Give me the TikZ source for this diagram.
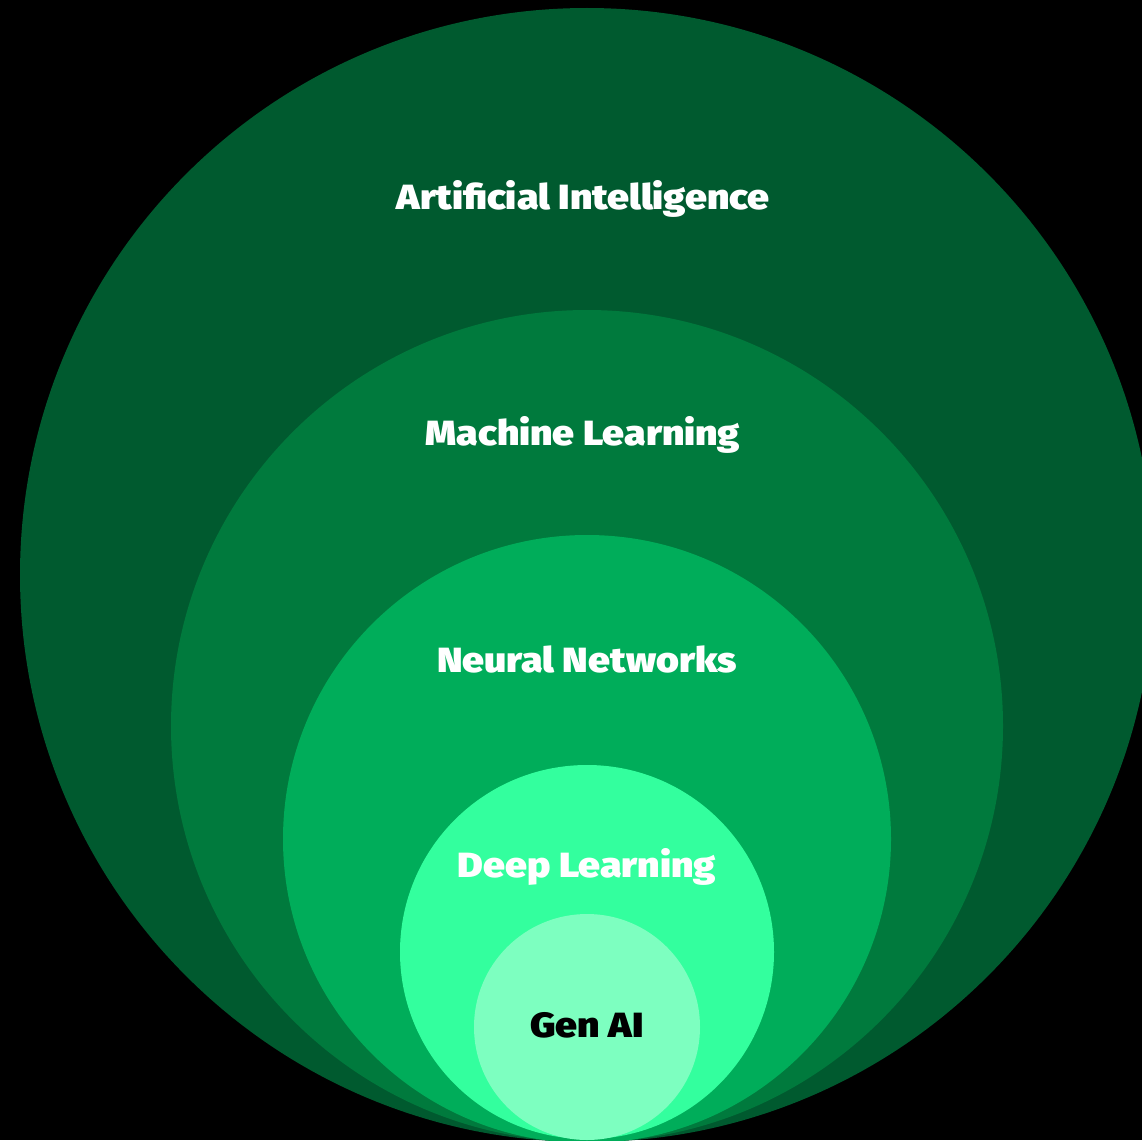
\documentclass[tikz,border=0pt]{standalone}
\usepackage{fontspec}
\newfontfamily\labfont{Fira Sans}[UprightFont=* Black, FakeStretch=1.12]
\definecolor{cAI}{HTML}{005A2F}
\definecolor{cML}{HTML}{007A3D}
\definecolor{cNN}{HTML}{00AD5A}
\definecolor{cDL}{HTML}{33FF9E}
\definecolor{cGA}{HTML}{7DFFC0}
\tikzset{
  lab/.style={anchor=base, inner sep=0pt, font=\labfont\fontsize{35}{38}\selectfont, text=white},
}
\begin{document}
\begin{tikzpicture}[x=1pt,y=-1pt]
\fill[black] (0,0) rectangle (1142,1140);
\useasboundingbox (0,0) rectangle (1142,1140);
\begin{scope}
\clip (0,0) rectangle (1142,1140);
\fill[cAI] (587,575) circle[radius=567];
\fill[cML] (587,726) circle[radius=416];
\fill[cNN] (587,839) circle[radius=304];
\fill[cDL] (587,952) circle[radius=187];
\fill[cGA] (587,1027) circle[radius=113];
\end{scope}
\node[lab] (ai) at (583,209) {Artificial Intelligence};
\node[lab] (ml) at (583,445) {Machine Learning};
\node[lab] (nn) at (587,672) {Neural Networks};
\node[lab] (dl) at (587,877) {Deep Learning};
\node[lab, text=black] (ga) at (587,1037) {Gen AI};
\end{tikzpicture}
\end{document}
